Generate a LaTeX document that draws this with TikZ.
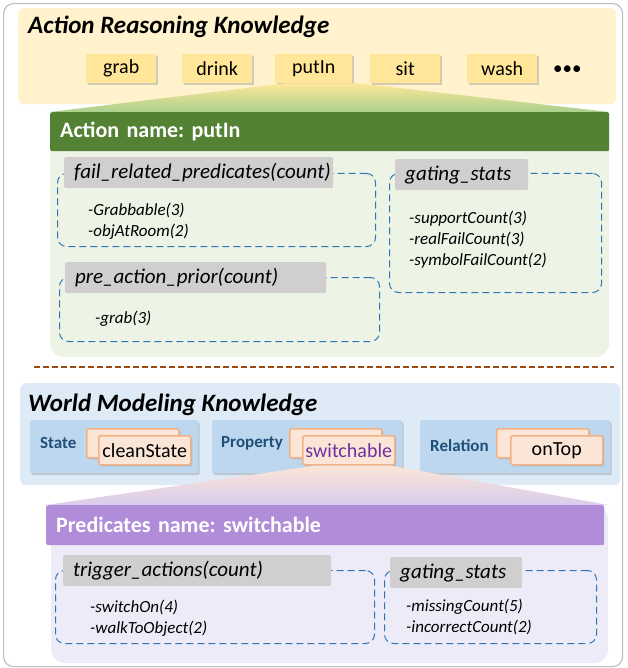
\documentclass[tikz,border=0pt]{standalone}
\usepackage{fontspec}
\setmainfont{Carlito}
\usetikzlibrary{shadows,positioning}

\definecolor{framegray}{HTML}{BFBFBF}
\definecolor{arkyellow}{HTML}{FFF2CC}
\definecolor{actgold}{HTML}{FFE699}
\definecolor{headgreen}{HTML}{548235}
\definecolor{panelgreen}{HTML}{EDF4E6}
\definecolor{fangreen}{HTML}{A9D18E}
\definecolor{taggray}{HTML}{D0CECE}
\definecolor{dashblue}{HTML}{2E75B6}
\definecolor{rulebrown}{HTML}{9C4A15}
\definecolor{wmkblue}{HTML}{DEEBF7}
\definecolor{catblue}{HTML}{BDD7EE}
\definecolor{catlabel}{HTML}{1F4E79}
\definecolor{cardfill}{HTML}{FBE5D6}
\definecolor{cardline}{HTML}{F4B183}
\definecolor{predpurple}{HTML}{7030A0}
\definecolor{headpurple}{HTML}{B18CD8}
\definecolor{panellav}{HTML}{EEEBF8}
\definecolor{fanlav}{HTML}{D9CCEC}

\begin{document}
\frenchspacing
\begin{tikzpicture}[x=1pt, y=-1pt,
    box/.style={anchor=north west, inner sep=0pt},
    act/.style={box, fill=actgold, minimum width=70pt, minimum height=29pt,
        font=\fontsize{20}{22}\selectfont,
        drop shadow={shadow xshift=1.5pt, shadow yshift=-2pt, opacity=0.35}},
    title/.style={anchor=west, inner sep=0pt, font=\fontsize{25}{28}\selectfont\bfseries\itshape},
    header/.style={box, inner xsep=10pt, minimum height=39pt, align=left, text=white,
        font=\fontsize{22}{24}\selectfont\bfseries},
    tag/.style={box, fill=taggray, rounded corners=1.5pt, inner xsep=10pt, minimum height=31pt,
        align=left, font=\fontsize{21}{24}\selectfont\itshape},
    dashbox/.style={box, draw=dashblue, dash pattern=on 7pt off 4pt, line width=1pt, rounded corners=9pt},
    item/.style={anchor=west, inner sep=0pt, align=left, font=\fontsize{17}{21}\selectfont\itshape},
    cat/.style={box, fill=catblue, rounded corners=2pt, minimum width=168pt, minimum height=53pt,
        drop shadow={shadow xshift=1.5pt, shadow yshift=-2pt, opacity=0.35}},
    catname/.style={anchor=west, inner sep=0pt, text=catlabel, font=\fontsize{17}{20}\selectfont\bfseries},
    card/.style={box, fill=cardfill, draw=cardline, line width=1.5pt, rounded corners=2pt,
        minimum width=92pt, minimum height=29pt, font=\fontsize{20}{22}\selectfont,
        drop shadow={shadow xshift=1.5pt, shadow yshift=-1.5pt, opacity=0.3}},
]
    \useasboundingbox (0,0) rectangle (627,668);

    % Frame
    \node[box, draw=framegray, line width=1.2pt, rounded corners=10pt,
        minimum width=619pt, minimum height=663pt] (frame) at (3,3) {};

    % Action reasoning knowledge
    \node[box, fill=arkyellow, rounded corners=6pt, minimum width=598pt, minimum height=96pt] (ark) at (18,8) {};
    \node[title] (arktitle) at (28,27) {Action Reasoning Knowledge};
    \node[act] (grab) at (86,54) {grab};
    \node[act] (drink) at (182,54) {drink};
    \node[act, minimum width=77pt] (putin) at (275,54) {putIn};
    \node[act] (sit) at (370,54) {sit};
    \node[act] (wash) at (467,54) {wash};
    \node[anchor=west, inner sep=0pt, font=\fontsize{19}{22}\selectfont] (more) at (553,70) {•••};

    \node[box, fill=panelgreen, rounded corners=14pt, minimum width=559pt, minimum height=245pt] (actpanel) at (50,112) {};
    \shade[top color=actgold, bottom color=fangreen]
        ([xshift=10pt]putin.south west) -- ([xshift=6pt]putin.south east)
        -- (actpanel.north east) -- (actpanel.north west) -- cycle;
    \node[header, fill=headgreen, rounded corners=2pt, text width=539pt] (acthead) at (50,112) {Action name: putIn};

    \node[dashbox, minimum width=318pt, minimum height=73pt] (failbox) at (57,173) {};
    \node[tag, text width=249pt] (failtag) at (64,157) {fail\_related\_predicates(count)};
    \node[item] (failitems) at (88,221) {-Grabbable(3)\\-objAtRoom(2)};

    \node[dashbox, minimum width=320pt, minimum height=64pt] (priorbox) at (59,277) {};
    \node[tag, text width=241pt] (priortag) at (65,262) {pre\_action\_prior(count)};
    \node[item] (prioritems) at (95,319) {-grab(3)};

    \node[dashbox, minimum width=212pt, minimum height=119pt] (gatebox) at (389,173) {};
    \node[tag, text width=113pt] (gatetag) at (395,159) {gating\_stats};
    \node[item] (gateitems) at (409,240) {-supportCount(3)\\-realFailCount(3)\\-symbolFailCount(2)};

    % Separator
    \draw[rulebrown, line width=1.8pt, dash pattern=on 6pt off 3pt] (34,367) -- (614,367);

    % World modeling knowledge
    \node[box, fill=wmkblue, rounded corners=6pt, minimum width=600pt, minimum height=102pt] (wmk) at (20,383) {};
    \node[title] (wmktitle) at (28,405) {World Modeling Knowledge};

    \node[cat] (state) at (30,420) {};
    \node[catname] (statename) at (40,443) {State};
    \node[cat, minimum width=190pt] (property) at (212,420) {};
    \node[catname] (propname) at (221,443) {Property};
    \node[cat, minimum width=190pt] (relation) at (420,420) {};
    \node[catname] (relname) at (430,446) {Relation};

    \node[box, fill=panellav, rounded corners=14pt, minimum width=557pt, minimum height=158pt] (predpanel) at (51,505) {};

    \node[card] (stateback) at (86,428) {};
    \node[card] (statecard) at (98,435) {cleanState};
    \node[card] (propback) at (289,428) {};
    \node[card, text=predpurple] (propcard) at (302,435) {switchable};
    \node[card] (relback) at (496,428) {};
    \node[card] (relcard) at (510,435) {onTop};

    \shade[top color=cardfill, bottom color=fanlav]
        ([xshift=14pt]propcard.south west) -- ([xshift=-6pt]propcard.south east)
        -- (predpanel.north east) -- ([xshift=-5pt]predpanel.north west) -- cycle;
    \node[header, fill=headpurple, rounded corners=2pt, minimum height=40pt, text width=538pt] (predhead) at (46,505) {Predicates name: switchable};

    \node[dashbox, minimum width=319pt, minimum height=73pt] (trigbox) at (55,570) {};
    \node[tag, text width=248pt] (trigtag) at (63,555) {trigger\_actions(count)};
    \node[item] (trigitems) at (90,618) {-switchOn(4)\\-walkToObject(2)};

    \node[dashbox, minimum width=212pt, minimum height=73pt] (gate2box) at (384,570) {};
    \node[tag, text width=112pt] (gate2tag) at (390,557) {gating\_stats};
    \node[item] (gate2items) at (406,617) {-missingCount(5)\\-incorrectCount(2)};
\end{tikzpicture}
\end{document}
